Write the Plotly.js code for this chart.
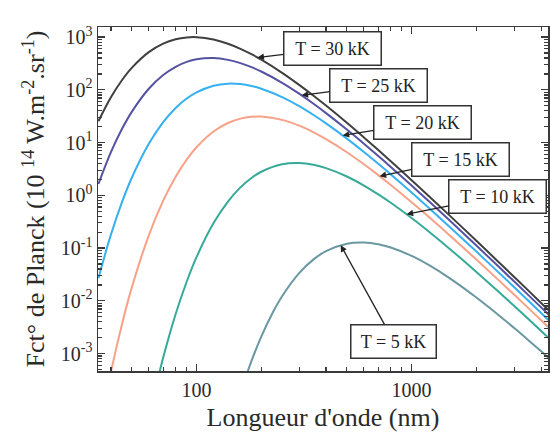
<!DOCTYPE html>
<html>
<head>
<meta charset="utf-8">
<script src="https://cdn.plot.ly/plotly-3.0.1.min.js"></script>
<style>
  html, body { margin: 0; padding: 0; background: #ffffff; }
  #chart { width: 550px; height: 432px; }
</style>
</head>
<body>
<div id="chart"></div>
<script>
// Planck spectral radiance, in units of 1e14 W.m-2.sr-1 (per metre of wavelength)
// Wavelengths in nm
const wl30 = [35, 40, 45, 50, 60, 70, 80, 90, 100, 120, 140, 160, 180, 200, 250, 300, 350, 400, 500, 600, 700, 800, 1000, 1200, 1500, 2000, 2500, 3000, 3500, 4000, 4500];
const b30 = [25.4, 72.2, 151.8, 260.2, 517.4, 750.6, 907.7, 982.9, 992.3, 896.1, 744.6, 596.9, 471.9, 372.2, 209.9, 124.2, 77.2, 50.2, 23.68, 12.51, 7.2, 4.426, 1.935, 0.9743, 0.4163, 0.1373, 0.05769, 0.02828, 0.01544, 0.00913, 0.005739];
const b25 = [1.639, 6.561, 18.01, 38.21, 104.6, 190.5, 273.2, 337.6, 378.4, 398.9, 369.2, 320.1, 268.6, 221.9, 135.6, 84.37, 54.28, 36.17, 17.63, 9.516, 5.556, 3.452, 1.531, 0.7777, 0.3352, 0.1116, 0.04711, 0.02318, 0.01269, 0.007516, 0.00473];
const b20 = [0.02686, 0.1798, 0.736, 2.15, 9.506, 24.38, 45.2, 68.15, 89.5, 119.6, 130.7, 128.1, 118.0, 104.9, 72.72, 49.0, 33.3, 23.08, 11.86, 6.612, 3.949, 2.494, 1.131, 0.5827, 0.2548, 0.08597, 0.03658, 0.01809, 0.009938, 0.005902, 0.003724];
const b15 = [2.84e-5, 4.479e-4, 3.57e-3, 0.01777, 0.1747, 0.793, 2.256, 4.745, 8.133, 16.17, 23.45, 28.37, 30.72, 31.01, 26.88, 20.89, 15.64, 11.63, 6.56, 3.881, 2.414, 1.569, 0.7399, 0.3912, 0.1751, 0.06049, 0.02608, 0.01301, 0.007191, 0.004292, 0.002717];
const wl10 = [65, 70, 80, 90, 100, 120, 140, 160, 180, 200, 250, 300, 350, 400, 500, 600, 700, 800, 1000, 1200, 1500, 2000, 2500, 3000, 3500, 4000, 4500];
const b10 = [2.501e-4, 8.393e-4, 5.62e-3, 0.02301, 0.0672, 0.2971, 0.7621, 1.412, 2.13, 2.798, 3.874, 4.083, 3.78, 3.278, 2.272, 1.531, 1.04, 0.7211, 0.3704, 0.2065, 0.09744, 0.03534, 0.01568, 0.007961, 0.00446, 0.002687, 0.001713];
const wl5 = [160, 170, 180, 200, 225, 250, 300, 350, 400, 500, 600, 700, 800, 1000, 1200, 1500, 2000, 2500, 3000, 3500, 4000, 4500];
const b5 = [1.756e-4, 3.735e-4, 7.19e-4, 2.099e-3, 5.764e-3, 0.01223, 0.03346, 0.06097, 0.08741, 0.1211, 0.1276, 0.1181, 0.1024, 0.07099, 0.04785, 0.027, 0.01158, 0.005642, 0.003045, 0.001777, 0.001104, 7.209e-4];

// Curve labels and the point on each curve the label arrow touches
const curveLabels = ['T = 30 kK', 'T = 25 kK', 'T = 20 kK', 'T = 15 kK', 'T = 10 kK', 'T = 5 kK'];
const labelTipNm = [192, 308, 478, 710, 948, 468];
const labelTipValue = [409.1, 78.45, 13.65, 2.308, 0.437, 0.1136];

// Axis ticks
const xTickVals = [100, 1000];
const xTickText = ['100', '1000'];
const xMinorVals = [40, 50, 60, 70, 80, 90, 200, 300, 400, 500, 600, 700, 800, 900, 2000, 3000, 4000];
const yTickVals = [1e-3, 1e-2, 1e-1, 1, 10, 100, 1000];
const yTickText = ['10<sup>-3</sup>', '10<sup>-2</sup>', '10<sup>-1</sup>', '10<sup>0</sup>', '10<sup>1</sup>', '10<sup>2</sup>', '10<sup>3</sup>'];
const yMinorVals = [5e-4, 6e-4, 7e-4, 8e-4, 9e-4,
  2e-3, 3e-3, 4e-3, 5e-3, 6e-3, 7e-3, 8e-3, 9e-3,
  0.02, 0.03, 0.04, 0.05, 0.06, 0.07, 0.08, 0.09,
  0.2, 0.3, 0.4, 0.5, 0.6, 0.7, 0.8, 0.9,
  2, 3, 4, 5, 6, 7, 8, 9,
  20, 30, 40, 50, 60, 70, 80, 90,
  200, 300, 400, 500, 600, 700, 800, 900];

const serif = 'Liberation Serif, Times New Roman, serif';
const axisColor = '#3a3a3a';

const series = [
  { x: wl30, y: b30, color: '#404040' },
  { x: wl30, y: b25, color: '#5552a2' },
  { x: wl30, y: b20, color: '#35b0f0' },
  { x: [35].concat(wl30.slice(1)), y: b15, color: '#f7a286' },
  { x: wl10, y: b10, color: '#36aa98' },
  { x: wl5, y: b5, color: '#6a98a2' }
];

const traces = series.map(s => ({
  type: 'scatter',
  mode: 'lines',
  x: s.x,
  y: s.y,
  line: { color: s.color, width: 2, shape: 'spline', smoothing: 1 },
  hoverinfo: 'skip'
}));

// Label box placement, pixel offsets from the arrow tip to the box centre
const boxOffX = [75, 77, 80, 81, 91, 53];
const boxOffY = [-9, -10, -13, -17, -18, 96];
const boxW = [94, 94, 94, 94, 94, 82];

const annotations = curveLabels.map((t, i) => ({
  xref: 'x', yref: 'y',
  x: Math.log10(labelTipNm[i]),
  y: Math.log10(labelTipValue[i]),
  text: t,
  showarrow: true,
  arrowhead: 2,
  arrowsize: 1,
  arrowwidth: 1.3,
  arrowcolor: '#222222',
  ax: boxOffX[i],
  ay: boxOffY[i],
  bgcolor: '#ffffff',
  bordercolor: '#333333',
  borderwidth: 1.5,
  borderpad: 1,
  width: boxW[i],
  height: 30,
  font: { family: serif, size: 18, color: '#222222' }
}));

const layout = {
  width: 550,
  height: 432,
  margin: { l: 98, r: 2, t: 27, b: 61, pad: 0 },
  paper_bgcolor: '#ffffff',
  plot_bgcolor: '#ffffff',
  showlegend: false,
  font: { family: serif, color: '#2a2a2a' },
  xaxis: {
    type: 'log',
    range: [1.542, 3.634],
    showgrid: false,
    zeroline: false,
    showline: true,
    linecolor: axisColor,
    linewidth: 1.5,
    mirror: 'allticks',
    ticks: 'inside',
    ticklen: 7,
    tickwidth: 1.3,
    tickcolor: axisColor,
    tickvals: xTickVals,
    ticktext: xTickText,
    tickfont: { family: serif, size: 20, color: '#2a2a2a' },
    minor: { ticks: 'inside', ticklen: 4, tickwidth: 1.2, tickcolor: axisColor, tickvals: xMinorVals, showgrid: false },
    title: { text: "Longueur d'onde (nm)", font: { family: serif, size: 26, color: '#2a2a2a' }, standoff: 8 }
  },
  yaxis: {
    type: 'log',
    range: [-3.33, 3.19],
    showgrid: false,
    zeroline: false,
    showline: true,
    linecolor: axisColor,
    linewidth: 1.5,
    mirror: 'allticks',
    ticks: 'inside',
    ticklen: 7,
    tickwidth: 1.3,
    tickcolor: axisColor,
    tickvals: yTickVals,
    ticktext: yTickText,
    tickfont: { family: serif, size: 20, color: '#2a2a2a' },
    minor: { ticks: 'inside', ticklen: 4, tickwidth: 1.2, tickcolor: axisColor, tickvals: yMinorVals, showgrid: false },
    title: { text: 'Fct° de Planck (10 <sup>14</sup> W.m<sup>-2</sup>.sr<sup>-1</sup>)', font: { family: serif, size: 26, color: '#2a2a2a' }, standoff: 8 }
  },
  annotations: annotations
};

Plotly.newPlot('chart', traces, layout, { displayModeBar: false, staticPlot: true });
</script>
</body>
</html>
